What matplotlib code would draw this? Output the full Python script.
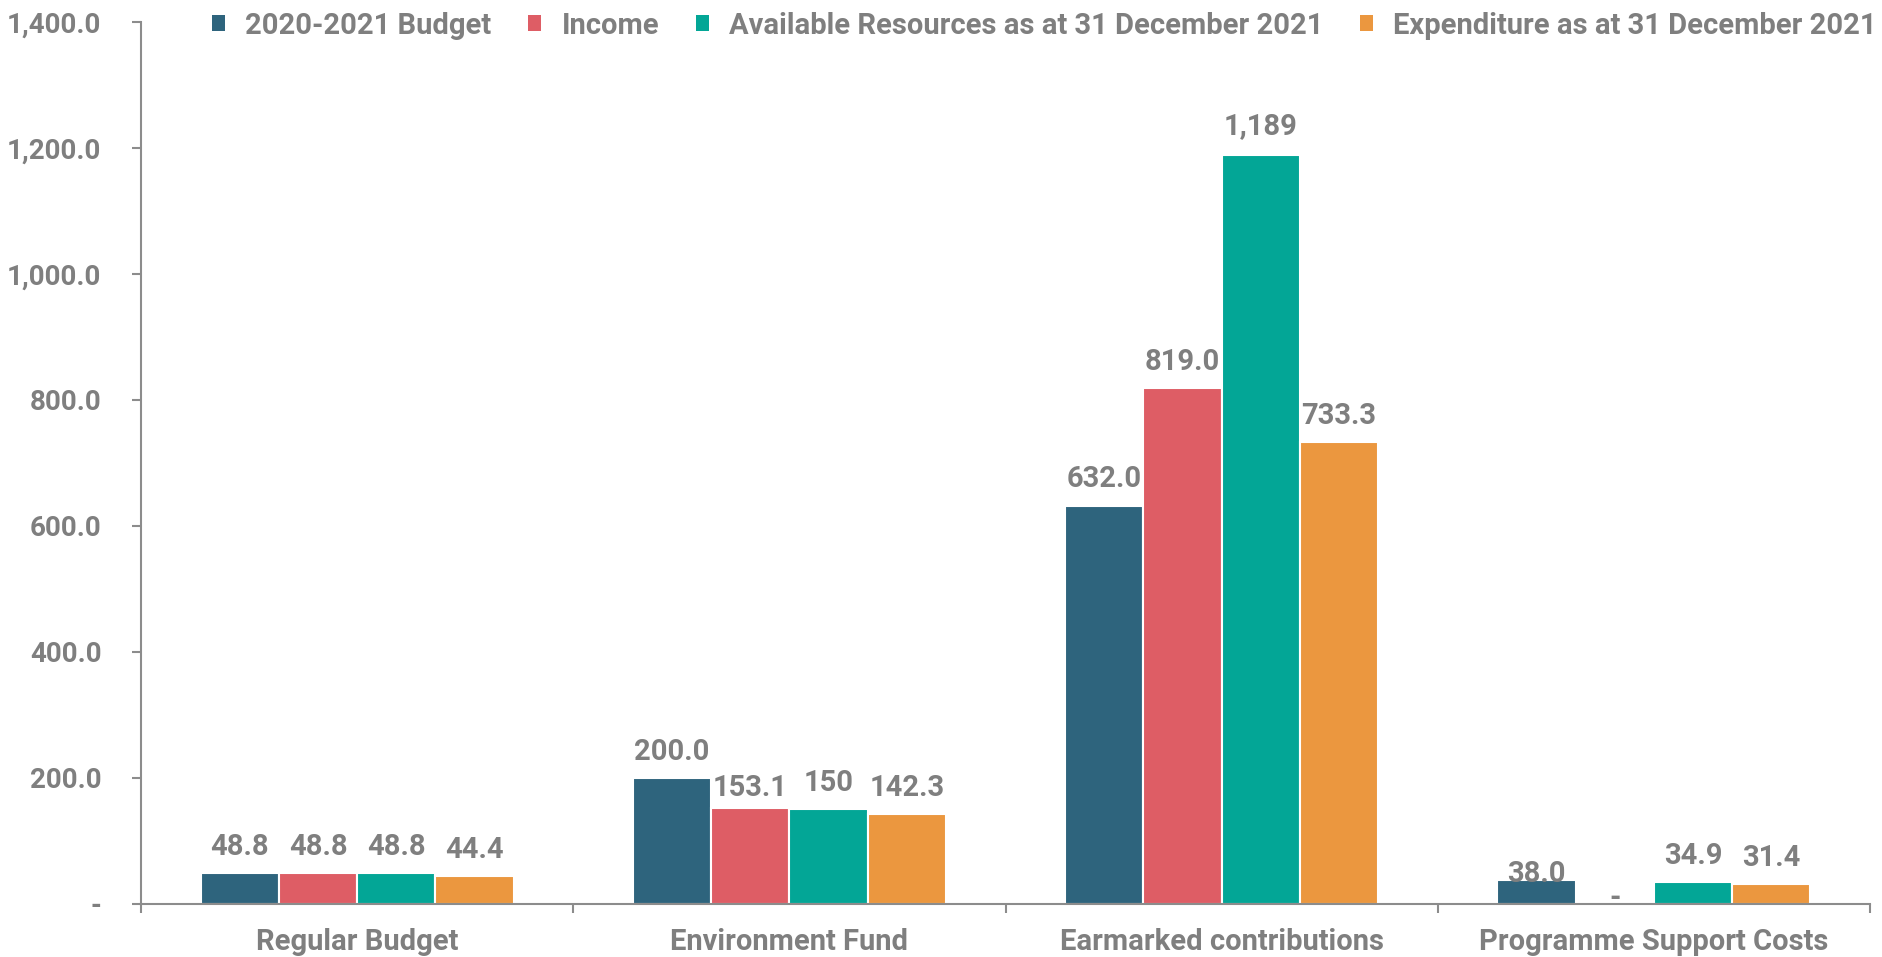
#!/usr/bin/env python3
"""Budget, income, resources and expenditure by fund, 2020-2021 (US$ million)."""

import matplotlib

matplotlib.use("Agg")
import matplotlib.pyplot as plt
import matplotlib.ticker as mticker
from matplotlib.patches import Patch

categories = ["Regular Budget", "Environment Fund", "Earmarked contributions", "Programme Support Costs"]
series_names = [
    "2020-2021 Budget",
    "Income",
    "Available Resources as at 31 December 2021",
    "Expenditure as at 31 December 2021",
]
budget = [48.8, 200.0, 632.0, 38.0]
income = [48.8, 153.1, 819.0, 0.0]
available = [48.8, 150.0, 1189.0, 34.9]
expenditure = [44.4, 142.3, 733.3, 31.4]
series_values = [budget, income, available, expenditure]

# labels as printed on the chart, one row per series
bar_labels = [
    ["48.8", "200.0", "632.0", "38.0"],
    ["48.8", "153.1", "819.0", "-"],
    ["48.8", "150", "1,189", "34.9"],
    ["44.4", "142.3", "733.3", "31.4"],
]
# vertical offset of each label centre above the bar top, in points (row per series)
label_offsets = [
    [19, 19, 19, 4],
    [19, 14, 19, 4],
    [19, 19, 20.5, 19],
    [19, 19, 19, 19],
]

COLORS = ["#2E647D", "#DE5D65", "#03A696", "#EB973F"]
GREY = "#7F7F7F"
AXIS = "#8C8C8C"

plt.rcParams["font.family"] = ["Roboto", "DejaVu Sans"]
plt.rcParams["font.weight"] = "bold"


def ytick_fmt(v, pos):
    if abs(v) < 1e-9:
        return "-"
    return f"{v:,.1f}"


def main():
    fig = plt.figure(figsize=(18.83, 9.57), dpi=100)
    ax = fig.add_axes([0.0749, 0.0554, 0.9182, 0.9216])

    width = 0.181
    for j, (vals, color) in enumerate(zip(series_values, COLORS)):
        xs = [i + (j - 1.5) * width for i in range(len(categories))]
        ax.bar(xs, vals, width=width, color=color, edgecolor="white", linewidth=1.5, zorder=2)
        for x, v, lab, off in zip(xs, vals, bar_labels[j], label_offsets[j]):
            ax.annotate(
                lab,
                (x, v),
                xytext=(0, off),
                textcoords="offset points",
                ha="center",
                va="center",
                fontsize=21,
                fontweight="bold",
                color=GREY,
                zorder=3,
            )

    ax.set_xlim(-0.5, len(categories) - 0.5)
    ax.set_ylim(0, 1400)
    ax.yaxis.set_major_locator(mticker.MultipleLocator(200))
    ax.yaxis.set_major_formatter(mticker.FuncFormatter(ytick_fmt))

    ax.set_xticks([i - 0.5 for i in range(len(categories) + 1)])
    ax.set_xticklabels([])
    ax.set_xticks(range(len(categories)), minor=True)
    ax.set_xticklabels(categories, minor=True)
    ax.tick_params(axis="x", which="minor", length=0, pad=17, labelsize=21, labelcolor=GREY)
    ax.tick_params(axis="x", which="major", length=6.5, width=1.5, color=AXIS, direction="out")
    ax.tick_params(axis="y", length=6.5, width=1.5, color=AXIS, pad=22, labelsize=20, labelcolor=GREY)

    for side in ("top", "right"):
        ax.spines[side].set_visible(False)
    for side in ("left", "bottom"):
        ax.spines[side].set_color(AXIS)
        ax.spines[side].set_linewidth(1.5)

    handles = [Patch(facecolor=c, edgecolor="none") for c in COLORS]
    ax.legend(
        handles,
        series_names,
        loc="center right",
        bbox_to_anchor=(1.004, 0.996),
        ncol=4,
        frameon=False,
        fontsize=21,
        labelcolor=GREY,
        handlelength=0.45,
        handleheight=0.45,
        handletextpad=0.7,
        columnspacing=1.25,
        borderpad=0,
        borderaxespad=0,
    )

    fig.savefig("out.png", dpi=100)
    plt.close(fig)


if __name__ == "__main__":
    main()
